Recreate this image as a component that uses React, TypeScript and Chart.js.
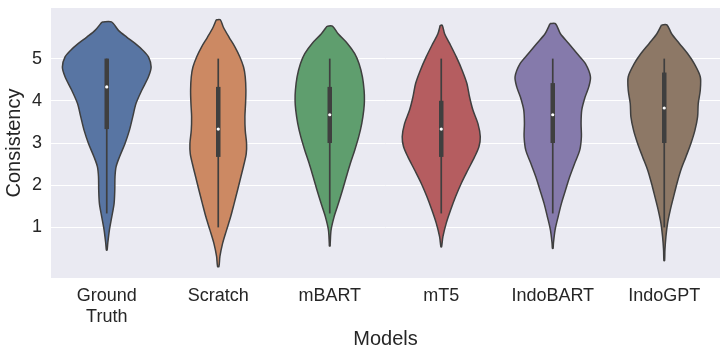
import React, { useEffect, useRef } from 'react';
import { Chart, registerables } from 'chart.js';

Chart.register(...registerables);

// Categories and tick labels
const categories = ['Ground Truth', 'Scratch', 'mBART', 'mT5', 'IndoBART', 'IndoGPT'];
const tickLabels: string[][] = [['Ground', 'Truth'], ['Scratch'], ['mBART'], ['mT5'], ['IndoBART'], ['IndoGPT']];
const yTicks = [1, 2, 3, 4, 5];

// Violin profiles: y levels (Consistency) and half widths (in category units)
const gtY = [5.87, 5.67, 5.51, 5.36, 5.2, 5.04, 4.8, 4.57, 4.25, 3.94, 3.62, 3.3, 2.99, 2.67, 2.44, 2.2, 1.88, 1.57, 1.25, 0.94, 0.62, 0.46];
const gtW = [0.042, 0.105, 0.179, 0.254, 0.323, 0.374, 0.398, 0.374, 0.314, 0.263, 0.233, 0.203, 0.164, 0.114, 0.084, 0.074, 0.072, 0.066, 0.045, 0.024, 0.009, 0.003];

const scY = [5.92, 5.75, 5.51, 5.28, 5.04, 4.8, 4.57, 4.25, 3.94, 3.62, 3.3, 2.99, 2.75, 2.52, 2.2, 1.88, 1.57, 1.25, 0.94, 0.62, 0.31, 0.07];
const scW = [0.018, 0.045, 0.096, 0.149, 0.194, 0.227, 0.242, 0.248, 0.245, 0.239, 0.242, 0.254, 0.251, 0.233, 0.203, 0.173, 0.143, 0.111, 0.075, 0.039, 0.015, 0.006];

const mbY = [5.77, 5.59, 5.36, 5.12, 4.88, 4.57, 4.25, 4.01, 3.78, 3.46, 3.15, 2.83, 2.52, 2.2, 1.88, 1.57, 1.25, 0.94, 0.62, 0.56];
const mbW = [0.024, 0.075, 0.158, 0.224, 0.263, 0.293, 0.308, 0.311, 0.305, 0.287, 0.26, 0.224, 0.185, 0.149, 0.114, 0.078, 0.039, 0.012, 0.004, 0.003];

const mtY = [5.79, 5.59, 5.36, 5.04, 4.72, 4.41, 4.09, 3.78, 3.46, 3.15, 2.91, 2.67, 2.36, 2.04, 1.73, 1.41, 1.1, 0.78, 0.54];
const mtW = [0.009, 0.03, 0.075, 0.135, 0.188, 0.23, 0.254, 0.284, 0.329, 0.35, 0.338, 0.299, 0.239, 0.179, 0.129, 0.084, 0.045, 0.015, 0.003];

const ibY = [5.83, 5.59, 5.36, 5.12, 4.88, 4.57, 4.33, 4.09, 3.78, 3.46, 3.15, 2.83, 2.52, 2.2, 1.88, 1.57, 1.25, 0.94, 0.62, 0.5];
const ibW = [0.024, 0.069, 0.143, 0.218, 0.293, 0.338, 0.323, 0.29, 0.26, 0.254, 0.257, 0.242, 0.197, 0.152, 0.114, 0.078, 0.048, 0.021, 0.006, 0.003];

const igY = [5.8, 5.59, 5.36, 5.12, 4.88, 4.57, 4.25, 3.94, 3.62, 3.3, 2.99, 2.67, 2.36, 2.04, 1.73, 1.41, 1.1, 0.78, 0.46, 0.21];
const igW = [0.024, 0.066, 0.135, 0.209, 0.269, 0.323, 0.323, 0.305, 0.299, 0.275, 0.239, 0.194, 0.149, 0.114, 0.084, 0.054, 0.03, 0.015, 0.006, 0.003];

// Inner box statistics
const whiskerLow = [1.33, 1.0, 1.33, 1.33, 1.33, 1.0];
const whiskerHigh = [5, 5, 5, 5, 5, 5];
const q1 = [3.33, 2.67, 3.0, 2.67, 3.0, 3.0];
const q3 = [5, 4.33, 4.33, 4.0, 4.42, 4.67];
const medians = [4.33, 3.33, 3.67, 3.33, 3.67, 3.83];

const fillColors = ['#5875A3', '#CC8963', '#5F9E6E', '#B55D60', '#857AAB', '#8D7866'];
const edgeColor = '#3f3f3f';
const textColor = '#262626';
const FONT = "'Liberation Sans', Arial, sans-serif";

const bgPlugin = {
  id: 'plotBg',
  beforeDraw(chart: any) {
    const { ctx, chartArea: a } = chart;
    ctx.save();
    ctx.fillStyle = '#EAEAF2';
    ctx.fillRect(a.left, a.top, a.right - a.left, a.bottom - a.top);
    ctx.restore();
  },
};

export default function App() {
  const ref = useRef<HTMLCanvasElement>(null);

  useEffect(() => {
    if (!ref.current) return;
    const profiles = [
      { y: gtY, w: gtW },
      { y: scY, w: scW },
      { y: mbY, w: mbW },
      { y: mtY, w: mtW },
      { y: ibY, w: ibW },
      { y: igY, w: igW },
    ];
    const datasets: any[] = [];
    profiles.forEach((p, i) => {
      const left = p.y.map((y, k) => ({ x: i - p.w[k], y }));
      const right = p.y.map((y, k) => ({ x: i + p.w[k], y })).reverse();
      datasets.push({
        label: categories[i],
        data: [...left, ...right, left[0]],
        showLine: true,
        fill: 'shape',
        backgroundColor: fillColors[i],
        borderColor: edgeColor,
        borderWidth: 1.5,
        pointRadius: 0,
        pointHoverRadius: 0,
        tension: 0.3,
        order: 3,
      });
    });
    categories.forEach((c, i) => {
      datasets.push({
        label: c + ' whisker',
        data: [{ x: i, y: whiskerLow[i] }, { x: i, y: whiskerHigh[i] }],
        showLine: true,
        borderColor: edgeColor,
        borderWidth: 1.7,
        borderCapStyle: 'butt',
        pointRadius: 0,
        order: 2,
      });
      datasets.push({
        label: c + ' box',
        data: [{ x: i, y: q1[i] }, { x: i, y: q3[i] }],
        showLine: true,
        borderColor: edgeColor,
        borderWidth: 4.5,
        borderCapStyle: 'butt',
        pointRadius: 0,
        order: 1,
      });
    });
    datasets.push({
      label: 'median',
      data: medians.map((m, i) => ({ x: i, y: m })),
      showLine: false,
      pointRadius: 1.6,
      pointBackgroundColor: '#ffffff',
      pointBorderWidth: 0,
      order: 0,
    });

    const chart = new Chart(ref.current, {
      type: 'scatter',
      data: { datasets },
      plugins: [bgPlugin],
      options: {
        animation: false,
        responsive: false,
        maintainAspectRatio: false,
        layout: { padding: { top: 8, right: 7, left: 0, bottom: 0 } },
        plugins: { legend: { display: false }, tooltip: { enabled: false } },
        scales: {
          x: {
            type: 'linear',
            min: -0.5,
            max: 5.5,
            afterBuildTicks: (scale: any) => {
              scale.ticks = categories.map((_, i) => ({ value: i }));
            },
            afterFit: (scale: any) => {
              scale.height = 79;
              scale.paddingLeft = 0;
              scale.paddingRight = 0;
            },
            grid: { display: false, drawTicks: false },
            border: { display: false },
            ticks: {
              autoSkip: false,
              maxRotation: 0,
              padding: 8,
              color: textColor,
              font: { family: FONT, size: 18, lineHeight: 1.15 },
              callback: (v: any) => tickLabels[Math.round(Number(v))] || '',
            },
            title: {
              display: true,
              text: 'Models',
              color: textColor,
              font: { family: FONT, size: 20 },
              padding: { top: 0, bottom: 6 },
            },
          },
          y: {
            type: 'linear',
            min: -0.2,
            max: 6.2,
            afterBuildTicks: (scale: any) => {
              scale.ticks = yTicks.map((v) => ({ value: v }));
            },
            afterFit: (scale: any) => {
              scale.width = 51;
              scale.paddingTop = 0;
              scale.paddingBottom = 0;
            },
            grid: { color: '#ffffff', lineWidth: 1, drawTicks: false },
            border: { display: false },
            ticks: {
              padding: 9,
              color: textColor,
              font: { family: FONT, size: 18 },
              callback: (v: any) => String(v),
            },
            title: {
              display: true,
              text: 'Consistency',
              color: textColor,
              font: { family: FONT, size: 20 },
              padding: { top: 2, bottom: 0 },
            },
          },
        },
      } as any,
    });
    return () => chart.destroy();
  }, []);

  return (
    <div style={{ position: 'absolute', left: 0, top: 0, width: 727, height: 357 }}>
      <canvas ref={ref} width={727} height={357} style={{ display: 'block' }} />
    </div>
  );
}
